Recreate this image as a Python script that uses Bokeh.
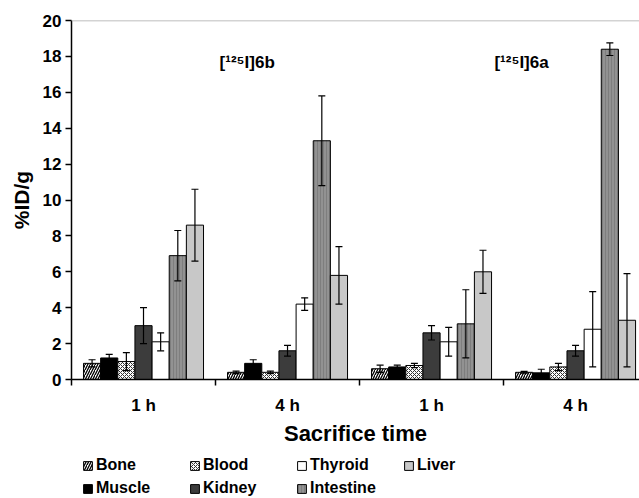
import numpy as np
from bokeh.plotting import figure
from bokeh.layouts import column
from bokeh.models import (ColumnDataSource, Whisker, TeeHead, FixedTicker, Span,
                          Legend, LegendItem)
from bokeh.core.properties import value
from bokeh.embed import file_html
from bokeh.resources import INLINE

# ---------------- data ----------------
categories = ["1 h", "4 h", "1 h", "4 h"]
compound_labels = ["[¹²⁵I]6b", "[¹²⁵I]6a"]
series = ["Bone", "Muscle", "Blood", "Kidney", "Thyroid", "Intestine", "Liver"]

bone = [0.9, 0.4, 0.6, 0.4]
bone_err = [0.2, 0.07, 0.2, 0.05]
muscle = [1.2, 0.9, 0.7, 0.37]
muscle_err = [0.2, 0.2, 0.1, 0.2]
blood = [1.0, 0.4, 0.78, 0.7]
blood_err = [0.5, 0.07, 0.12, 0.2]
kidney = [3.0, 1.6, 2.6, 1.6]
kidney_err = [1.0, 0.3, 0.4, 0.3]
thyroid = [2.1, 4.2, 2.1, 2.8]
thyroid_err = [0.5, 0.35, 0.8, 2.1]
intestine = [6.9, 13.3, 3.1, 18.4]
intestine_err = [1.4, 2.5, 1.9, 0.35]
liver = [8.6, 5.8, 6.0, 3.3]
liver_err = [2.0, 1.6, 1.2, 2.6]

y_ticks = [0, 2, 4, 6, 8, 10, 12, 14, 16, 18, 20]

values = [bone, muscle, blood, kidney, thyroid, intestine, liver]
errors = [bone_err, muscle_err, blood_err, kidney_err, thyroid_err, intestine_err, liver_err]

# ---------------- styles ----------------
styles = {
    "Bone":      dict(fill_color="white", hatch_pattern="/", hatch_color="black", hatch_scale=5, hatch_weight=1.3),
    "Muscle":    dict(fill_color="black"),
    "Blood":     dict(fill_color="white", hatch_pattern="x", hatch_color="#333333", hatch_scale=4, hatch_weight=1.0),
    "Kidney":    dict(fill_color="#3c3c3c"),
    "Thyroid":   dict(fill_color="white"),
    "Intestine": dict(fill_color="#929292", hatch_pattern="|", hatch_color="#7e7e7e", hatch_scale=3, hatch_weight=1.0),
    "Liver":     dict(fill_color="#c8c8c8"),
}

FONT = "Liberation Sans"

p = figure(width=639, height=448, x_range=(0, 3.944), y_range=(0, 20),
           output_backend="svg", toolbar_location=None,
           min_border_left=71, min_border_right=0, min_border_top=20, min_border_bottom=50)
p.outline_line_color = None
p.xgrid.visible = False
p.ygrid.visible = False
p.background_fill_color = "white"

n = len(series)
margin = 0.0833
bw = (1 - 2 * margin) / n
groups = np.arange(len(categories))

# legend figure (its bars lie far outside its visible ranges; only the legend shows)
leg = figure(width=639, height=50, x_range=(100, 101), y_range=(100, 101),
             output_backend="svg", toolbar_location=None,
             x_axis_location=None, y_axis_location=None,
             min_border_left=71, min_border_right=0, min_border_top=0, min_border_bottom=0)
leg.outline_line_color = None
leg.xgrid.visible = False
leg.ygrid.visible = False

items = []
for i, name in enumerate(series):
    xs = groups + margin + (i + 0.5) * bw
    vals = np.array(values[i])
    errs = np.array(errors[i])
    src = ColumnDataSource(dict(x=xs, top=vals, upper=vals + errs, lower=vals - errs))
    p.vbar(x="x", top="top", width=bw, source=src, line_color="black", line_width=1,
           **styles[name])
    w = Whisker(base="x", upper="upper", lower="lower", source=src,
                line_color="black", line_width=1.2, level="overlay",
                upper_head=TeeHead(size=7, line_color="black", line_width=1.2),
                lower_head=TeeHead(size=7, line_color="black", line_width=1.2))
    p.add_layout(w)
    r = leg.vbar(x="x", top="top", width=bw, source=src, line_color="black", line_width=1,
                 **styles[name])
    items.append(LegendItem(label=name, renderers=[r]))

# compound labels
lab_src = ColumnDataSource(dict(x=[1.22, 3.125], y=[17.66, 17.66], t=compound_labels))
p.text(x="x", y="y", text="t", source=lab_src, text_font=value(FONT), text_font_style="bold",
       text_font_size="17px", text_align="center", text_baseline="middle", text_color="black")

# top border line
p.add_layout(Span(location=20, dimension="width", line_color="#a8a8a8", line_width=1.5))

# x axis
xa = p.xaxis[0]
xa.ticker = FixedTicker(ticks=[g + 0.5 for g in groups], minor_ticks=list(range(len(categories) + 1)))
xa.major_label_overrides = {float(g + 0.5): c for g, c in zip(groups, categories)}
xa.major_tick_line_color = None
xa.major_tick_out = 0
xa.major_tick_in = 0
xa.minor_tick_line_color = "black"
xa.minor_tick_line_width = 1.5
xa.minor_tick_out = 6
xa.minor_tick_in = 0
xa.axis_line_color = "black"
xa.axis_line_width = 1.5
xa.major_label_text_font = FONT
xa.major_label_text_font_style = "bold"
xa.major_label_text_font_size = "17px"
xa.major_label_text_color = "black"
xa.major_label_standoff = 10
xa.axis_label = "Sacrifice time"
xa.axis_label_text_font = FONT
xa.axis_label_text_font_style = "bold"
xa.axis_label_text_font_size = "22px"
xa.axis_label_text_color = "black"
xa.axis_label_standoff = 3

# y axis
ya = p.yaxis[0]
ya.ticker = FixedTicker(ticks=y_ticks)
ya.minor_tick_line_color = None
ya.major_tick_out = 6
ya.major_tick_in = 0
ya.major_tick_line_width = 1.5
ya.major_tick_line_color = "black"
ya.axis_line_width = 1.5
ya.axis_line_color = "black"
ya.major_label_text_font = FONT
ya.major_label_text_font_style = "bold"
ya.major_label_text_font_size = "17px"
ya.major_label_text_color = "black"
ya.major_label_standoff = 4
ya.axis_label = "%ID/g"
ya.axis_label_text_font = FONT
ya.axis_label_text_font_style = "bold"
ya.axis_label_text_font_size = "21px"
ya.axis_label_text_color = "black"
ya.axis_label_standoff = 7

legend = Legend(items=items, location=(11, 1), orientation="vertical", ncols=4,
                margin=0, padding=0, spacing=5,
                glyph_width=11, glyph_height=11, label_standoff=3, label_width=88, label_height=16,
                label_text_font=FONT, label_text_font_style="bold", label_text_font_size="16px",
                label_text_color="black",
                border_line_color=None, background_fill_alpha=0)
leg.add_layout(legend)

layout = column(p, leg, spacing=0)
open("out.html", "w").write(file_html(layout, INLINE))
